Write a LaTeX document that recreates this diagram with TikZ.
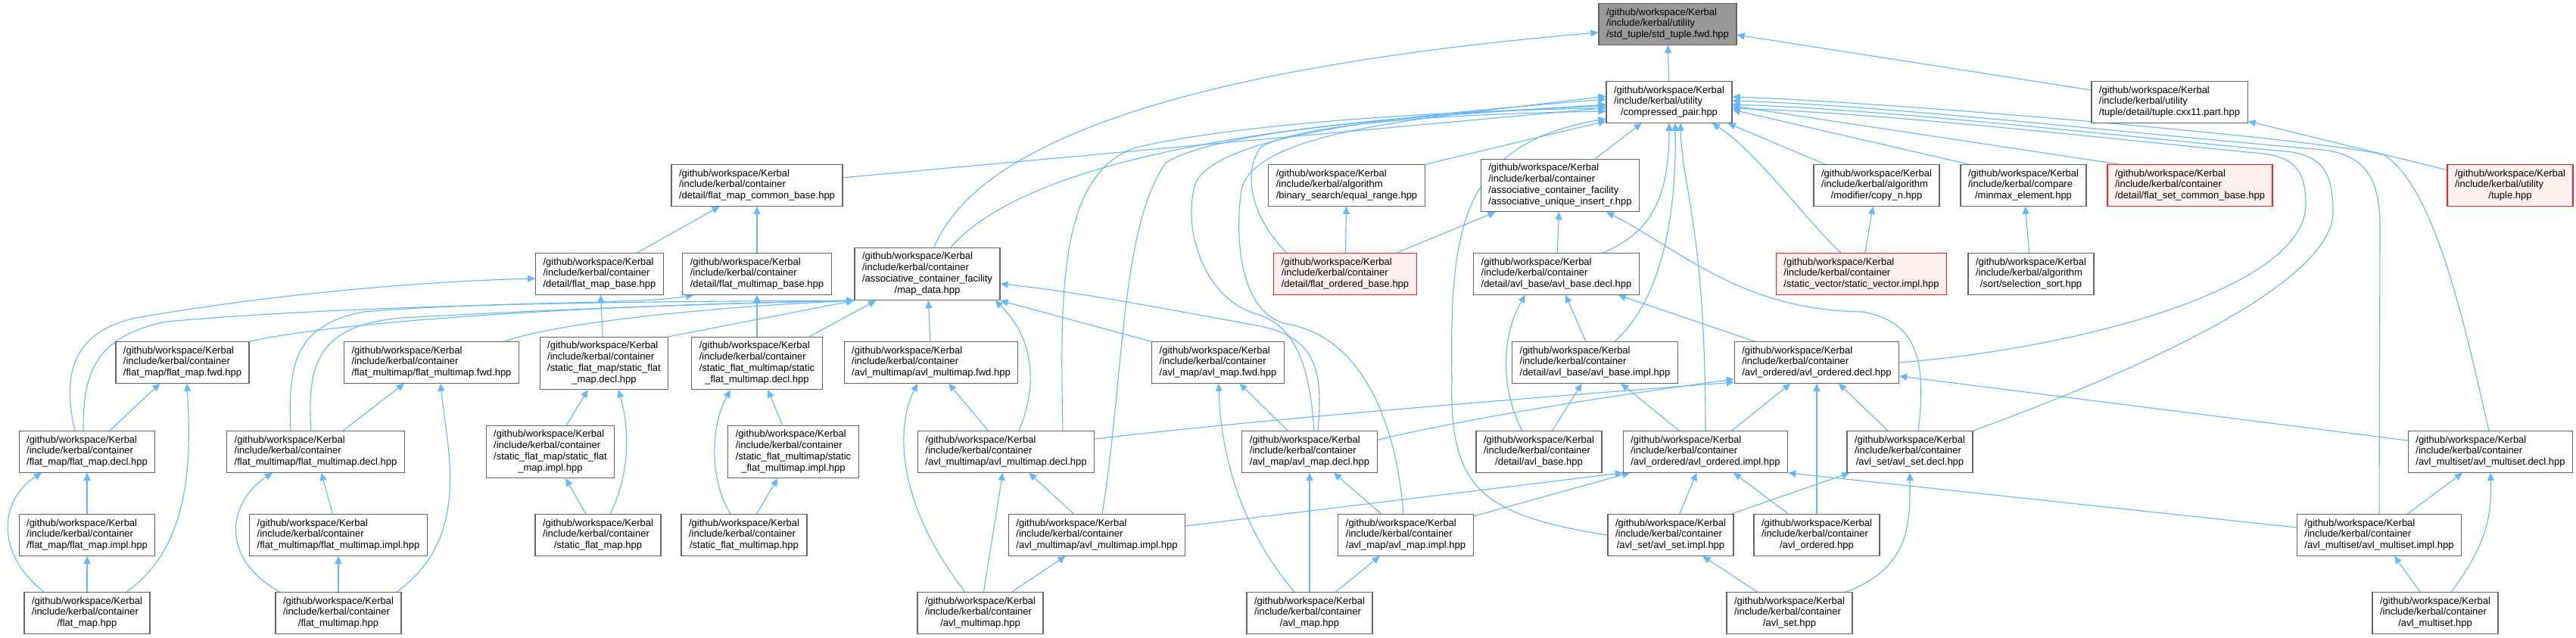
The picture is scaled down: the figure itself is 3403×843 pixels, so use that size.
\documentclass[tikz,border=0pt]{standalone}
\usepackage{fontspec}
\setmainfont{Liberation Sans}
\usetikzlibrary{arrows.meta,calc}
\definecolor{edgec}{HTML}{63B8FF}
\definecolor{bordg}{HTML}{666666}
\definecolor{redf}{HTML}{FFF0F0}
\definecolor{redb}{HTML}{FF2020}
\definecolor{grayf}{HTML}{999999}
\newcommand\gkl{/github/workspace/Kerbal}
\newcommand\labthree[2]{\begin{tabular}{@{}l@{}}\gkl\\#1\\\multicolumn{1}{@{}c@{}}{#2}\end{tabular}}
\newcommand\labfour[3]{\begin{tabular}{@{}l@{}}\gkl\\#1\\#2\\\multicolumn{1}{@{}c@{}}{#3}\end{tabular}}
\pgfdeclarelayer{bg}
\pgfdeclarelayer{edges}
\pgfsetlayers{bg,edges,main}
\tikzset{
 fbox/.style={draw=bordg, fill=white, line width=1.2pt, inner xsep=10pt, inner ysep=5pt, font=\fontsize{13}{14.8}\selectfont, text=black},
 rbox/.style={fbox, draw=redb, fill=redf},
 gbox/.style={fbox, fill=grayf},
 dep/.style={draw=edgec, line width=1.1pt, -{Triangle[length=10pt,width=9pt]}}
}
\begin{document}
\begin{tikzpicture}[x=1pt,y=-1pt]
\begin{pgfonlayer}{bg}
\fill[white] (0,0) rectangle (3403,843);
\end{pgfonlayer}
\useasboundingbox (0,0) rectangle (3403,843);
% row 0-1
\node[gbox] (std) at (2203,32) {\labthree{/include/kerbal/utility}{/std\_tuple/std\_tuple.fwd.hpp}};
\node[fbox] (cp) at (2205,135) {\labthree{/include/kerbal/utility}{/compressed\_pair.hpp}};
\node[fbox] (tcx) at (2866,135) {\labthree{/include/kerbal/utility}{/tuple/detail/tuple.cxx11.part.hpp}};
% row 2
\node[fbox] (fmcb) at (1000,245) {\labthree{/include/kerbal/container}{/detail/flat\_map\_common\_base.hpp}};
\node[fbox] (er) at (1779,245) {\labthree{/include/kerbal/algorithm}{/binary\_search/equal\_range.hpp}};
\node[fbox] (aui) at (2061,245) {\labfour{/include/kerbal/container}{/associative\_container\_facility}{/associative\_unique\_insert\_r.hpp}};
\node[fbox] (cpn) at (2479,245) {\labthree{/include/kerbal/algorithm}{/modifier/copy\_n.hpp}};
\node[fbox] (mm) at (2673,245) {\labthree{/include/kerbal/compare}{/minmax\_element.hpp}};
\node[rbox] (fscb) at (2893,245) {\labthree{/include/kerbal/container}{/detail/flat\_set\_common\_base.hpp}};
\node[rbox] (tup) at (3316,245) {\labthree{/include/kerbal/utility}{/tuple.hpp}};
% row 3
\node[fbox] (fmb) at (792,362) {\labthree{/include/kerbal/container}{/detail/flat\_map\_base.hpp}};
\node[fbox] (fmmb) at (1000,362) {\labthree{/include/kerbal/container}{/detail/flat\_multimap\_base.hpp}};
\node[fbox] (md) at (1225,362) {\labfour{/include/kerbal/container}{/associative\_container\_facility}{/map\_data.hpp}};
\node[rbox] (fob) at (1777,362) {\labthree{/include/kerbal/container}{/detail/flat\_ordered\_base.hpp}};
\node[fbox] (abd) at (2056,362) {\labthree{/include/kerbal/container}{/detail/avl\_base/avl\_base.decl.hpp}};
\node[rbox] (svi) at (2459,362) {\labthree{/include/kerbal/container}{/static\_vector/static\_vector.impl.hpp}};
\node[fbox] (ss) at (2683,362) {\labthree{/include/kerbal/algorithm}{/sort/selection\_sort.hpp}};
% row 4
\node[fbox] (fmf) at (241,479) {\labthree{/include/kerbal/container}{/flat\_map/flat\_map.fwd.hpp}};
\node[fbox] (fmmf) at (570,479) {\labthree{/include/kerbal/container}{/flat\_multimap/flat\_multimap.fwd.hpp}};
\node[fbox] (sfmd) at (798,480) {\labfour{/include/kerbal/container}{/static\_flat\_map/static\_flat}{\_map.decl.hpp}};
\node[fbox] (sfmmd) at (1000,480) {\labfour{/include/kerbal/container}{/static\_flat\_multimap/static}{\_flat\_multimap.decl.hpp}};
\node[fbox] (amf) at (1230,479) {\labthree{/include/kerbal/container}{/avl\_multimap/avl\_multimap.fwd.hpp}};
\node[fbox] (amapf) at (1609,479) {\labthree{/include/kerbal/container}{/avl\_map/avl\_map.fwd.hpp}};
\node[fbox] (abi) at (2107,479) {\labthree{/include/kerbal/container}{/detail/avl\_base/avl\_base.impl.hpp}};
\node[fbox] (aod) at (2400,479) {\labthree{/include/kerbal/container}{/avl\_ordered/avl\_ordered.decl.hpp}};
% row 5
\node[fbox] (fmd) at (115,597) {\labthree{/include/kerbal/container}{/flat\_map/flat\_map.decl.hpp}};
\node[fbox] (fmmd) at (417,597) {\labthree{/include/kerbal/container}{/flat\_multimap/flat\_multimap.decl.hpp}};
\node[fbox] (sfmi) at (727,597) {\labfour{/include/kerbal/container}{/static\_flat\_map/static\_flat}{\_map.impl.hpp}};
\node[fbox] (sfmmi) at (1048,597) {\labfour{/include/kerbal/container}{/static\_flat\_multimap/static}{\_flat\_multimap.impl.hpp}};
\node[fbox] (amd) at (1329,597) {\labthree{/include/kerbal/container}{/avl\_multimap/avl\_multimap.decl.hpp}};
\node[fbox] (amapd) at (1730,597) {\labthree{/include/kerbal/container}{/avl\_map/avl\_map.decl.hpp}};
\node[fbox] (abh) at (2033,597) {\labthree{/include/kerbal/container}{/detail/avl\_base.hpp}};
\node[fbox] (aoi) at (2253,597) {\labthree{/include/kerbal/container}{/avl\_ordered/avl\_ordered.impl.hpp}};
\node[fbox] (asd) at (2523,597) {\labthree{/include/kerbal/container}{/avl\_set/avl\_set.decl.hpp}};
\node[fbox] (amsd) at (3290,597) {\labthree{/include/kerbal/container}{/avl\_multiset/avl\_multiset.decl.hpp}};
% row 6
\node[fbox] (fmi) at (115,707) {\labthree{/include/kerbal/container}{/flat\_map/flat\_map.impl.hpp}};
\node[fbox] (fmmi) at (447,707) {\labthree{/include/kerbal/container}{/flat\_multimap/flat\_multimap.impl.hpp}};
\node[fbox] (sfmh) at (790,707) {\labthree{/include/kerbal/container}{/static\_flat\_map.hpp}};
\node[fbox] (sfmmh) at (983,707) {\labthree{/include/kerbal/container}{/static\_flat\_multimap.hpp}};
\node[fbox] (ami) at (1449,707) {\labthree{/include/kerbal/container}{/avl\_multimap/avl\_multimap.impl.hpp}};
\node[fbox] (amapi) at (1857,707) {\labthree{/include/kerbal/container}{/avl\_map/avl\_map.impl.hpp}};
\node[fbox] (asi) at (2207,707) {\labthree{/include/kerbal/container}{/avl\_set/avl\_set.impl.hpp}};
\node[fbox] (aoh) at (2400,707) {\labthree{/include/kerbal/container}{/avl\_ordered.hpp}};
\node[fbox] (amsi) at (3143,707) {\labthree{/include/kerbal/container}{/avl\_multiset/avl\_multiset.impl.hpp}};
% row 7
\node[fbox] (fmh) at (115,810) {\labthree{/include/kerbal/container}{/flat\_map.hpp}};
\node[fbox] (fmmh) at (447,810) {\labthree{/include/kerbal/container}{/flat\_multimap.hpp}};
\node[fbox] (amh) at (1295,810) {\labthree{/include/kerbal/container}{/avl\_multimap.hpp}};
\node[fbox] (amaph) at (1730,810) {\labthree{/include/kerbal/container}{/avl\_map.hpp}};
\node[fbox] (ash) at (2364,810) {\labthree{/include/kerbal/container}{/avl\_set.hpp}};
\node[fbox] (amsh) at (3217,810) {\labthree{/include/kerbal/container}{/avl\_multiset.hpp}};

\begin{pgfonlayer}{edges}
% into std_tuple.fwd
\draw[dep] (cp) -- (std);
\draw[dep] ($(md.north)+(9,0)$) .. controls (1290,190) and (1560,90) .. ($(std.west)+(0,11)$);
\draw[dep] (tcx) -- (std);
\draw[dep] (tup) -- (tcx);
% into compressed_pair from left
\draw[dep] (fmcb) -- (cp);
\draw[dep] ($(md.north)+(31,0)$) .. controls (1340,230) and (1600,160) .. ($(cp.west)+(0,5)$);
\draw[dep] (er.north east) -- ($(cp.west)+(0,25)$);
\draw[dep] ($(fob.north)+(-77,0)$) .. controls (1655,290) and (1640,230) .. (1665,195) .. controls (1720,160) and (1950,150) .. ($(cp.west)+(0,12)$);
\draw[dep] ($(amd.north)+(75,0)$) .. controls (1400,380) and (1400,230) .. (1500,195) .. controls (1650,160) and (1950,145) .. ($(cp.west)+(0,8)$);
\draw[dep] ($(ami.north)+(7,0)$) .. controls (1485,500) and (1480,300) .. (1540,215) .. controls (1620,165) and (1950,150) .. ($(cp.west)+(0,3)$);
\draw[dep] ($(amapd.north)+(6,0)$) .. controls (1730,480) and (1710,430) .. (1660,415) .. controls (1590,395) and (1560,300) .. (1580,240) .. controls (1620,170) and (1900,150) .. ($(cp.west)+(0,-4)$);
\draw[dep] ($(amapi.north)+(-3,0)$) .. controls (1845,560) and (1800,445) .. (1700,428) .. controls (1640,415) and (1630,320) .. (1640,250) .. controls (1660,170) and (1900,155) .. ($(cp.west)+(0,-8)$);
\draw[dep] (asi.west) .. controls (1950,680) and (1915,640) .. (1918,500) .. controls (1915,300) and (1930,190) .. ($(cp.west)+(0,22)$);
% into compressed_pair from below
\draw[dep] ($(abd.north)+(61,0)$) .. controls (2175,310) and (2205,270) .. (cp.south);
\draw[dep] ($(abi.north)+(26,0)$) .. controls (2190,400) and (2215,300) .. ($(cp.south)+(8,0)$);
\draw[dep] (aoi.north) .. controls (2253,300) and (2222,250) .. ($(cp.south)+(15,0)$);
\draw[dep] (aui) -- (cp);
\draw[dep] ($(svi.north)+(-27,0)$) .. controls (2385,290) and (2320,200) .. ($(cp.south)+(57,0)$);
\draw[dep] ($(cpn.north west)+(16,0)$) -- ($(cp.south east)+(-6,0)$);
\draw[dep] ($(mm.north west)+(12,0)$) -- ($(cp.east)+(0,10)$);
\draw[dep] ($(fscb.north west)+(17,0)$) -- ($(cp.east)+(0,5)$);
% into compressed_pair from the far right
\draw[dep] (aod.east) .. controls (2750,460) and (3046,380) .. (3046,270) .. controls (3046,225) and (3030,208) .. (2990,203) .. controls (2800,185) and (2500,150) .. ($(cp.east)+(0,8)$);
\draw[dep] (asd.north east) .. controls (2850,480) and (3082,370) .. (3082,280) .. controls (3082,225) and (3065,205) .. (3020,200) .. controls (2800,180) and (2500,145) .. ($(cp.east)+(0,3)$);
\draw[dep] (amsi.north) -- (3144,300) .. controls (3144,230) and (3120,205) .. (3070,198) .. controls (2800,175) and (2500,140) .. ($(cp.east)+(0,-2)$);
\draw[dep] ($(amsd.north)+(-2,0)$) .. controls (3260,450) and (3220,250) .. (3150,205) .. controls (3080,185) and (2500,135) .. ($(cp.east)+(0,-7)$);
% associative_unique_insert, equal_range, copy_n, minmax
\draw[dep] (fob) -- (aui);
\draw[dep] (fob) -- (er);
\draw[dep] (abd) -- (aui);
\draw[dep] ($(asd.north)+(11,0)$) .. controls (2545,480) and (2535,425) .. (2460,412) .. controls (2300,410) and (2220,330) .. ($(aui.south east)+(-44,0)$);
\draw[dep] (svi) -- (cpn);
\draw[dep] (ss) -- (mm);
% flat map common base
\draw[dep] (fmb) -- (fmcb);
\draw[dep] (fmmb) -- (fmcb);
% map_data
\draw[dep] ($(fmd.north)+(-5,0)$) .. controls (110,500) and (120,445) .. (220,425) .. controls (500,400) and (900,398) .. (md.south west);
\draw[dep] (fmf.north east) .. controls (420,430) and (700,405) .. (md.south west);
\draw[dep] ($(fmmf.north)+(96,0)$) .. controls (740,425) and (950,405) .. (md.south west);
\draw[dep] ($(fmmd.north)+(-6,0)$) .. controls (405,480) and (420,430) .. (530,420) .. controls (800,405) and (1000,400) .. (md.south west);
\draw[dep] (sfmd.north east) -- (md.south west);
\draw[dep] ($(sfmmd.north)+(69,0)$) -- ($(md.south)+(-68,0)$);
\draw[dep] (amf) -- (md);
\draw[dep] ($(amd.north)+(17,0)$) .. controls (1375,500) and (1360,440) .. ($(md.south east)+(-7,0)$);
\draw[dep] (amapf.north west) -- (md.south east);
\draw[dep] ($(amapd.north)+(11,0)$) .. controls (1748,490) and (1740,445) .. (1660,430) .. controls (1550,410) and (1420,385) .. ($(md.east)+(0,13)$);
% flat map base / flat multimap base
\draw[dep] ($(fmd.north)+(-16,0)$) .. controls (85,510) and (85,440) .. (180,420) .. controls (350,390) and (550,372) .. ($(fmb.west)+(0,6)$);
\draw[dep] (sfmd) -- (fmb);
\draw[dep] ($(fmmd.north)+(-33,0)$) .. controls (380,480) and (390,430) .. (480,412) .. controls (650,398) and (850,402) .. ($(fmmb.south west)+(15,0)$);
\draw[dep] (sfmmd) -- (fmmb);
% flat_map family
\draw[dep] (fmd) -- (fmf);
\draw[dep] (fmi) -- (fmd);
\draw[dep] (fmh) -- (fmi);
\draw[dep] ($(fmh.north)+(-57,0)$) .. controls (-8,730) and (0,660) .. ($(fmd.south)+(-60,0)$);
\draw[dep] ($(fmh.north)+(52,0)$) .. controls (255,720) and (252,600) .. ($(fmf.south)+(6,0)$);
% flat_multimap family
\draw[dep] (fmmd) -- (fmmf);
\draw[dep] (fmmi) -- (fmmd);
\draw[dep] (fmmh) -- (fmmi);
\draw[dep] ($(fmmh.north)+(-77,0)$) .. controls (285,735) and (305,660) .. ($(fmmd.south)+(-57,0)$);
\draw[dep] ($(fmmh.north)+(77,0)$) .. controls (625,710) and (590,590) .. ($(fmmf.south)+(12,0)$);
% static_flat_map family
\draw[dep] (sfmi) -- (sfmd);
\draw[dep] (sfmh) -- (sfmi);
\draw[dep] ($(sfmh.north)+(16,0)$) .. controls (835,620) and (830,560) .. ($(sfmd.south)+(19,0)$);
% static_flat_multimap family
\draw[dep] (sfmmi) -- (sfmmd);
\draw[dep] (sfmmh) -- (sfmmi);
\draw[dep] ($(sfmmh.north)+(-18,0)$) .. controls (935,630) and (940,560) .. ($(sfmmd.south)+(-35,0)$);
% avl_multimap family
\draw[dep] (amd) -- (amf);
\draw[dep] ($(amh.north)+(-20,0)$) .. controls (1180,660) and (1185,560) .. ($(amf.south)+(-18,0)$);
\draw[dep] (amh) -- (amd);
\draw[dep] (ami) -- (amd);
\draw[dep] (amh) -- (ami);
\draw[dep] ($(amd.east)+(0,-17)$) .. controls (1700,550) and (2100,520) .. ($(aod.west)+(0,26)$);
\draw[dep] ($(ami.east)+(0,-12)$) -- (aoi.south west);
% avl_map family
\draw[dep] (amapd) -- (amapf);
\draw[dep] ($(amaph.north)+(-20,0)$) .. controls (1640,700) and (1612,600) .. ($(amapf.south)+(1,0)$);
\draw[dep] (amaph) -- (amapd);
\draw[dep] (amaph) -- (amapi);
\draw[dep] (amapi) -- (amapd);
\draw[dep] ($(amapd.north east)+(0,12)$) .. controls (1950,550) and (2150,520) .. ($(aod.west)+(0,22)$);
\draw[dep] (amapi) -- (aoi);
% avl_ordered
\draw[dep] (asi) -- (aoi);
\draw[dep] (aoh) -- (aoi);
\draw[dep] ($(amsi.west)+(0,-10)$) -- (aoi.south east);
\draw[dep] (aoi) -- (aod);
\draw[dep] (aoi) -- (abi);
\draw[dep] (aoh) -- (aod);
\draw[dep] (asd) -- (aod);
\draw[dep] ($(amsd.west)+(0,-15)$) -- ($(aod.east)+(0,18)$);
% avl_set
\draw[dep] (asi) -- (asd);
\draw[dep] ($(ash.north)+(74,0)$) .. controls (2525,750) and (2523,690) .. (asd.south);
\draw[dep] (ash) -- (asi);
% avl_base
\draw[dep] ($(abh.north)+(-22,0)$) .. controls (1980,510) and (1985,440) .. ($(abd.south)+(-41,0)$);
\draw[dep] (abh) -- (abi);
\draw[dep] (abi) -- (abd);
\draw[dep] (aod) -- (abd);
% avl_multiset
\draw[dep] (amsi) -- (amsd);
\draw[dep] (amsh) -- (amsi);
\draw[dep] ($(amsh.north)+(21,0)$) .. controls (3285,720) and (3292,680) .. (amsd.south);
\end{pgfonlayer}
\end{tikzpicture}
\end{document}
